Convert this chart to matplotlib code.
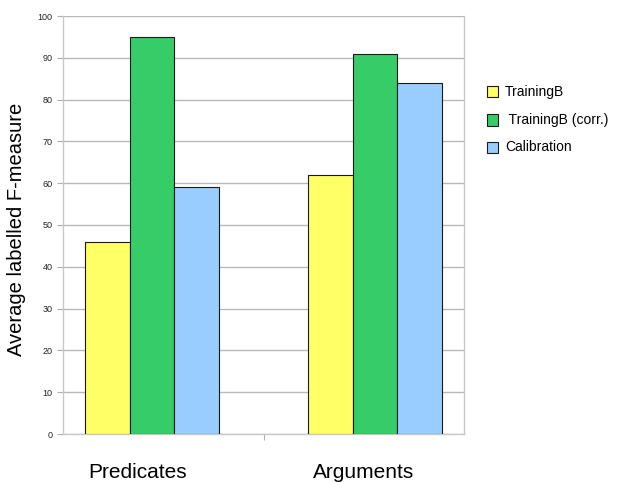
import matplotlib
matplotlib.use("Agg")
import matplotlib.pyplot as plt
import matplotlib.transforms as mtransforms
from matplotlib.patches import Rectangle
import numpy as np

plt.rcParams['font.family'] = ['Liberation Sans', 'DejaVu Sans']

categories = ["Predicates", "Arguments"]
series_names = ["TrainingB", " TrainingB (corr.)", "Calibration"]
training_b = [46, 62]
training_b_corr = [95, 91]
calibration = [59, 84]
colors = ["#FFFF66", "#36CC68", "#99CCFF"]

fig = plt.figure(figsize=(6.32, 4.82), dpi=100)
ax = fig.add_axes([63 / 632, 48 / 482, 401 / 632, 418 / 482])

group_centers = np.array([0.444, 1.556])
width = 0.224
values = [training_b, training_b_corr, calibration]
for i, (vals, col) in enumerate(zip(values, colors)):
    ax.bar(group_centers + (i - 1) * width, vals, width=width, color=col,
           edgecolor="#1a1a1a", linewidth=0.8, zorder=3)

ax.set_xlim(0, 2)
ax.set_ylim(0, 100)
ax.set_yticks(np.arange(0, 101, 10))
ax.yaxis.grid(True, color="#b8b8b8", linewidth=1.0, zorder=0)
ax.set_xticks([1])
ax.set_xticklabels([""])
ax.tick_params(axis="y", direction="out", length=4.5, width=0.8, color="#b0b0b0",
               labelsize=6.5, labelcolor="#222222", pad=3)
ax.tick_params(axis="x", direction="out", length=4.5, width=0.8, color="#b0b0b0")
for side in ["left", "right", "bottom", "top"]:
    ax.spines[side].set_color("#c8c8c8")
    ax.spines[side].set_linewidth(1.0)
ax.spines["top"].set_visible(False)

ax.set_ylabel("Average labelled F-measure", fontsize=14.5)
ax.yaxis.set_label_coords(-0.093, 0.49)

# category names beneath the groups
trans = mtransforms.blended_transform_factory(ax.transData, fig.transFigure)
label_x = [0.374, 1.501]
for x, name in zip(label_x, categories):
    ax.text(x, 4 / 482, name, transform=trans, ha="center", va="baseline",
            fontsize=15)

# legend to the right of the plot
rows_y = [91.7, 120, 147.3]
for y, name, col in zip(rows_y, series_names, colors):
    s = 11
    fig.patches.append(Rectangle((487 / 632, (482 - y - s / 2) / 482), s / 632, s / 482,
                                 transform=fig.transFigure, facecolor=col,
                                 edgecolor="#1a1a1a", linewidth=0.8))
    fig.text(505 / 632, (482 - y) / 482, name, fontsize=10, va="center", ha="left")

fig.savefig("out.png", dpi=100)
